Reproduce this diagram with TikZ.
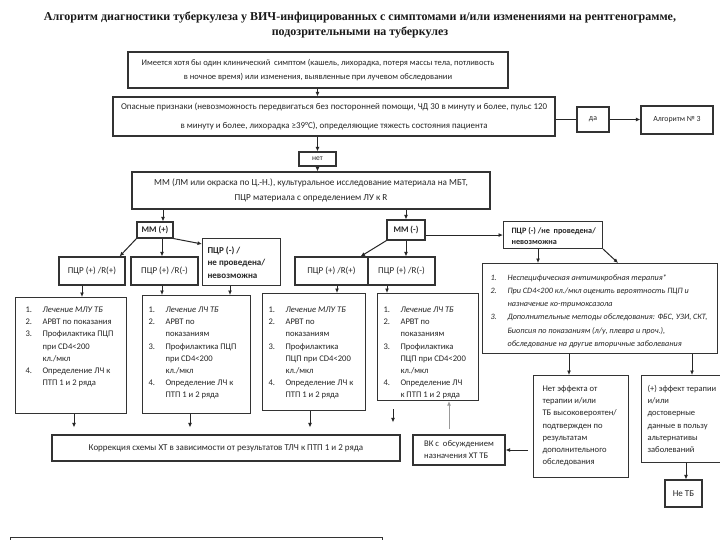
\documentclass[tikz,border=0pt]{standalone}
\usepackage{fontspec}
\setmainfont{Carlito}
\newfontfamily\titlefont{Liberation Serif}
\usetikzlibrary{arrows.meta}
\newcommand\fs[2]{\fontsize{#1}{#2}\selectfont}
\tikzset{
  box/.style={draw=black!80, line width=1.1pt, fill=white, text=black!85, font=\fs{8.6}{12.2}, inner sep=0pt},
  arr/.style={color=black!85, line width=1pt, -{Latex[length=4.5pt,width=4pt]}},
  ln/.style={color=black!85, line width=1pt},
  grayarr/.style={color=black!40, line width=1pt, -{Latex[length=4.5pt,width=4pt]}},
}
% centred box: name, x1, y1, x2, y2, options, text
\newcommand\cbx[7]{\node[box,#6,minimum width={(#4-#2)*1pt},minimum height={(#5-#3)*1pt}] (#1) at ({(#2+#4)/2},{(#3+#5)/2}) {#7};}
% top-aligned content: width, height, padx, pady, content
\newcommand\tbox[5]{\vbox to #2pt{\vskip #4pt\hbox to #1pt{\hskip #3pt #5\hss}\vss}}
\newcommand\lst[1]{\begin{tabular}{@{}p{17pt}@{}l@{}}#1\end{tabular}}
\begin{document}
\begin{tikzpicture}[x=1pt,y=-1pt]
\clip (0,0) rectangle (720,540);
\fill[white] (0,0) rectangle (720,540);

\node[font=\titlefont\bfseries\fs{12}{15}, align=center, text=black!90] (title) at (360,25)
 {Алгоритм диагностики туберкулеза у ВИЧ-инфицированных с симптомами и/или изменениями на рентгенограмме,\\подозрительными на туберкулез};

\cbx{b1}{128}{52}{508}{88}{align=center,font=\fs{8.5}{14}}{Имеется хотя бы один клинический\ \ симптом (кашель, лихорадка, потеря массы тела, потливость\\в ночное время) или изменения, выявленные при лучевом обследовании}
\cbx{b2}{113}{97}{555}{136}{align=center,font=\fs{8.9}{19}}{Опасные признаки (невозможность передвигаться без посторонней помощи, ЧД 30 в минуту и более, пульс 120\\в минуту и более, лихорадка ≥39°C), определяющие тяжесть состояния пациента}
\cbx{da}{577}{107}{609}{132}{font=\fs{7.8}{10}}{да}
\cbx{alg}{641}{106}{713}{134}{font=\fs{7.8}{10}}{Алгоритм № 3}
\cbx{net}{299}{152}{336}{166}{font=\fs{7.5}{10}}{нет}
\cbx{mm}{132}{172}{490}{209}{align=center,font=\fs{9.2}{15}}{ММ (ЛМ или окраска по Ц.-Н.), культуральное исследование материала на МБТ,\\ПЦР материала с определением ЛУ к R}

\cbx{mmp}{137}{222}{173}{238}{font=\fs{8.6}{10}\bfseries}{ММ (+)}
\cbx{p1}{59}{257}{125}{285}{font=\fs{9}{10}}{ПЦР (+) /R(+)}
\cbx{p2}{131}{257}{198}{285}{font=\fs{9}{10}}{ПЦР (+) /R(-)}
\node[box, anchor=north west, font=\fs{9}{12.5}\bfseries] (pn1) at (202,238) {\tbox{78}{47}{5}{6}{\begin{tabular}{@{}l@{}}ПЦР (-) /\\не проведена/\\невозможна\end{tabular}}};

\cbx{mmn}{387}{220}{425}{240}{font=\fs{8.6}{10}\bfseries}{ММ (-)}
\cbx{p3}{295}{257}{368}{285}{font=\fs{9}{10}}{ПЦР (+) /R(+)}
\cbx{p4}{368}{257}{435}{285}{font=\fs{9}{10}}{ПЦР (+) /R(-)}
\node[box, anchor=north west, font=\fs{8.2}{11}\bfseries] (pn2) at (503,221) {\tbox{99}{27}{8}{4.2}{\begin{tabular}{@{}l@{}}ПЦР (-) /не\ \ проведена/\\невозможна\end{tabular}}};

\node[box, anchor=north west, font=\fs{8.2}{13.2}\itshape] (big) at (482,263) {\tbox{235}{90}{8}{7.5}{\begin{tabular}{@{}p{17pt}@{}l@{}}
1. & Неспецифическая антимикробная терапия*\\
2. & При CD4<200 кл./мкл оценить вероятность ПЦП и\\
   & назначение ко-тримоксазола\\
3. & Дополнительные методы обследования: ФБС, УЗИ, СКТ,\\
   & Биопсия по показаниям (л/у, плевра и проч.),\\
   & обследование на другие вторичные заболевания\end{tabular}}};

\node[box, anchor=north west] (L1) at (15,297) {\tbox{111}{116}{10}{6.5}{\lst{
1. & \itshape Лечение МЛУ ТБ\\
2. & АРВТ по показания\\
3. & Профилактика ПЦП\\
   & при CD4<200\\
   & кл./мкл\\
4. & Определение ЛЧ к\\
   & ПТП 1 и 2 ряда}}};
\node[box, anchor=north west] (L2) at (142,295) {\tbox{108}{118}{6}{8.5}{\lst{
1. & \itshape Лечение ЛЧ ТБ\\
2. & АРВТ по\\
   & показаниям\\
3. & Профилактика ПЦП\\
   & при CD4<200\\
   & кл./мкл\\
4. & Определение ЛЧ к\\
   & ПТП 1 и 2 ряда}}};
\node[box, anchor=north west] (L3) at (262,293) {\tbox{103}{117}{6}{10.5}{\lst{
1. & \itshape Лечение МЛУ ТБ\\
2. & АРВТ по\\
   & показаниям\\
3. & Профилактика\\
   & ПЦП при CD4<200\\
   & кл./мкл\\
4. & Определение ЛЧ к\\
   & ПТП 1 и 2 ряда}}};
\node[box, anchor=north west] (L4) at (377,293) {\tbox{101}{107}{6}{10.5}{\lst{
1. & \itshape Лечение ЛЧ ТБ\\
2. & АРВТ по\\
   & показаниям\\
3. & Профилактика\\
   & ПЦП при CD4<200\\
   & кл./мкл\\
4. & Определение ЛЧ\\
   & к ПТП 1 и 2 ряда}}};

\cbx{corr}{52}{435}{400}{461}{font=\fs{9}{10}}{Коррекция схемы ХТ в зависимости от результатов ТЛЧ к ПТП 1 и 2 ряда}
\cbx{vk}{413}{435}{505}{465}{align=left,font=\fs{8.6}{12}}{ВК с\ \ обсуждением\\назначения ХТ ТБ}
\node[box, anchor=north west] (noeff) at (533,375) {\tbox{95}{102}{9}{7.5}{\begin{tabular}{@{}l@{}}
Нет эффекта от\\терапии и/или\\ТБ высоковероятен/\\подтвержден по\\результатам\\дополнительного\\обследования\end{tabular}}};
\node[box, anchor=north west, font=\fs{8.5}{12.2}] (pos) at (641,375) {\tbox{79}{87}{6}{7.5}{\begin{tabular}{@{}l@{}}
(+) эффект терапии\\и/или\\достоверные\\данные в пользу\\альтернативы\\заболеваний\end{tabular}}};
\cbx{nottb}{665}{480}{702}{507}{font=\fs{9}{10}}{Не ТБ}
\node[box, anchor=north west, minimum width=372pt, minimum height=30pt] (foot) at (10,537) {};

% guide coordinates (x positions of connectors)
\coordinate (g74) at (74,0);   \coordinate (g82) at (82,0);
\coordinate (g163) at (163,0); \coordinate (g162) at (162,0);
\coordinate (g190) at (190,0); \coordinate (g230) at (230,0);
\coordinate (g310) at (310,0); \coordinate (g337) at (337,0);
\coordinate (g387) at (387,0); \coordinate (g393) at (393,0);
\coordinate (g449) at (449,0); \coordinate (g538) at (538,0);
\coordinate (g569) at (569,0); \coordinate (g686) at (686,0);
\coordinate (g692) at (692,0);

\draw[arr] (b1.south -| net) -- (b2.north -| net);
\draw[arr] (b2.south -| net) -- (net.north);
\draw[arr] (net.south) -- (mm.north -| net);
\draw[ln] (b2.east |- da.west) -- (da.west);
\draw[arr] (da.east) -- (alg.west |- da.east);

\draw[arr] (mm.south -| g163) -- (mmp.north -| g163);
\draw[arr] (mm.south -| mmn) -- (mmn.north);
\draw[arr] (mmp.south west) -- ([xshift=-6pt]p1.north east);
\draw[arr] (mmp.south -| g162) -- (p2.north -| g162);
\draw[arr] (mmp.south east) -- ([yshift=-6pt]pn1.north west);
\draw[arr] (mmn.south west) -- ([xshift=-8pt]p3.north east);
\draw[arr] (mmn.south) -- (mmn.south |- p4.north);
\draw[arr] (mmn.east |- pn2.west) -- (pn2.west);
\draw[arr] (pn2.south -| g538) -- (big.north -| g538);
\draw[arr] (pn2.south east) -- ([xshift=-100pt]big.north east);

\draw[arr] (p1.south -| g82) -- (L1.north -| g82);
\draw[arr] (p2.south -| g162) -- (L2.north -| g162);
\draw[arr] (pn1.south -| g230) -- (L2.north -| g230);
\draw[arr] (p3.south -| g337) -- (L3.north -| g337);
\draw[arr] (p4.south -| g387) -- (L4.north -| g387);

\draw[arr, shorten >=7pt] (L1.south -| g74) -- (corr.north -| g74);
\draw[arr, shorten >=7pt] (L2.south -| g190) -- (corr.north -| g190);
\draw[arr, shorten >=7pt] (L3.south -| g310) -- (corr.north -| g310);
\draw[arr, shorten <=8pt, shorten >=12pt] (L4.south -| g393) -- (corr.north -| g393);

\draw[arr] (big.south -| g569) -- (noeff.north -| g569);
\draw[arr] (big.south -| g692) -- (pos.north -| g692);
\draw[arr] (pos.south -| g686) -- (nottb.north -| g686);
\draw[arr, shorten <=5pt] (noeff.west |- vk.east) -- (vk.east);
\draw[grayarr, shorten <=5pt] (vk.north -| g449) -- (L4.south -| g449);
\end{tikzpicture}
\end{document}
